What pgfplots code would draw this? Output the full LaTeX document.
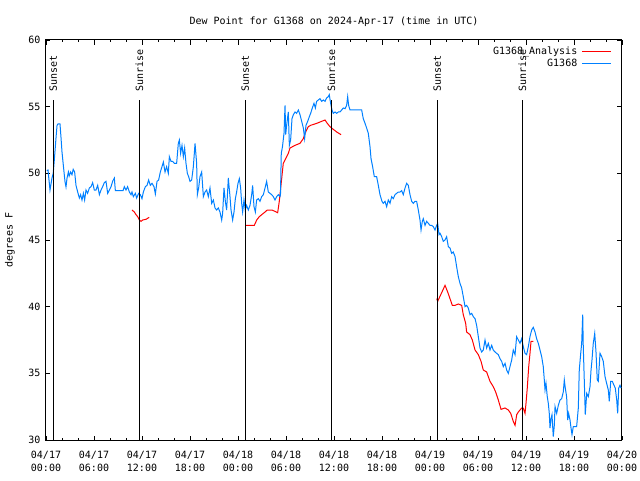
\documentclass[border=0pt]{standalone}
\usepackage{pgfplots}
\pgfplotsset{compat=1.18}
\usepackage{fontspec}
\setmainfont{DejaVu Sans Mono}
\setmonofont{DejaVu Sans Mono}
\definecolor{gblue}{RGB}{0,128,255}
\definecolor{gred}{RGB}{255,0,0}
\begin{document}
\begin{tikzpicture}[font=\fontsize{10}{13}\selectfont]
\useasboundingbox (-46pt,-40pt) rectangle (594pt,440pt);
\begin{axis}[
 scale only axis, width=576pt, height=400pt,
 at={(0pt,0pt)}, anchor=south west,
 xmin=0, xmax=72, ymin=30, ymax=60,
 /pgf/number format/assume math mode=true,
 xtick={0,6,...,72},
 xticklabels={{04/17\\00:00},{04/17\\06:00},{04/17\\12:00},{04/17\\18:00},{04/18\\00:00},{04/18\\06:00},{04/18\\12:00},{04/18\\18:00},{04/19\\00:00},{04/19\\06:00},{04/19\\12:00},{04/19\\18:00},{04/20\\00:00}},
 xticklabel style={align=center, font=\fontsize{10}{13}\selectfont, yshift=-8pt},
 yticklabel style={font=\fontsize{10}{13}\selectfont, xshift=-2pt},
 minor x tick num=2,
 ytick={30,35,...,60},
 tick align=inside,
 major tick length=4.5pt, minor tick length=2.5pt,
 tick style={black, line width=0.8pt},
 axis line style={black, line width=1pt},
 title={Dew Point for G1368 on 2024-Apr-17 (time in UTC)},
 title style={at={(axis description cs:0.5,1)}, anchor=center, yshift=12pt, font=\fontsize{10}{13}\selectfont},
 ylabel={degrees F},
 ylabel style={at={(axis description cs:-0.0625,0.5)}, anchor=center, font=\fontsize{10}{13}\selectfont},
 unbounded coords=jump,
 legend plot pos=right,
 legend cell align=right,
 legend style={draw=none, fill=none, at={(axis description cs:1,1)}, anchor=north east, xshift=-10pt, yshift=-5pt, inner sep=0pt, row sep=0pt, column sep=3pt, font=\fontsize{10}{13}\selectfont, nodes={inner sep=1.5pt}},
]
\addplot[gred, line width=1pt, legend image code/.code={\draw[draw=gred, line width=1pt] (0pt,0pt) -- (29pt,0pt);}] table {
x y
10.75 47.25
11.04 47.1
11.25 46.9
11.46 46.75
11.67 46.5
11.88 46.4
12.08 46.5
12.5 46.55
12.9 46.7
nan nan
24.88 46.1
26.04 46.1
26.34 46.5
26.66 46.75
27.38 47.1
27.66 47.25
28.25 47.25
28.96 47.05
29.16 47.9
29.46 49.6
29.66 50.75
30.29 51.5
30.5 51.9
31.13 52.1
31.75 52.25
32.16 52.6
32.38 53.0
32.79 53.5
33.08 53.6
33.84 53.75
34.46 53.9
34.88 54.0
35.16 53.75
35.5 53.5
35.91 53.3
36.34 53.1
36.88 52.9
nan nan
48.84 40.6
48.96 40.4
49.88 41.6
50.21 41.1
50.5 40.6
50.79 40.1
51.13 40.1
51.54 40.2
51.96 40.1
52.16 39.4
52.46 38.75
52.58 38.1
53.0 37.9
53.29 37.5
53.63 36.75
54.04 36.4
54.38 35.9
54.66 35.25
55.08 35.1
55.5 34.4
55.91 34.0
56.21 33.6
56.54 33.0
56.88 32.3
57.38 32.4
57.79 32.25
58.09 32.0
58.41 31.4
58.63 31.1
58.84 31.9
59.04 32.1
59.46 32.4
59.66 32.4
59.88 32.0
60.0 32.75
60.16 33.9
60.34 35.5
60.5 36.5
60.63 37.4
60.91 37.4
};
\addlegendentry{G1368\_Analysis}
\addplot[gblue, line width=1pt, legend image code/.code={\draw[draw=gblue, line width=1pt] (0pt,0pt) -- (29pt,0pt);}] table {
x y
0.1 50.2
0.25 50.25
0.5 48.75
0.75 49.65
0.9 50.0
1.04 51.0
1.25 52.65
1.38 53.6
1.5 53.7
1.75 53.7
1.88 52.65
2.0 51.6
2.2 50.4
2.38 49.35
2.5 48.98
2.63 49.65
2.8 50.1
2.9 49.8
3.08 50.1
3.25 49.9
3.4 50.3
3.58 50.1
3.75 49.1
3.96 48.6
4.17 48.15
4.33 48.4
4.5 48.0
4.67 48.5
4.83 48.0
5.0 48.75
5.2 48.5
5.42 48.9
5.63 49.0
5.83 49.3
6.04 48.75
6.25 48.75
6.46 49.1
6.67 48.4
6.88 48.75
7.08 49.0
7.29 49.3
7.5 49.4
7.71 48.5
7.92 48.75
8.13 49.0
8.33 49.4
8.54 49.65
8.67 48.7
9.63 48.7
9.79 49.0
10.0 48.75
10.2 49.0
10.42 48.6
10.63 48.4
10.75 48.6
10.92 48.25
11.17 48.5
11.33 48.15
11.58 48.5
11.79 48.4
12.0 48.1
12.17 48.6
12.42 49.0
12.63 49.1
12.83 49.5
13.04 49.1
13.25 49.25
13.5 49.0
13.67 48.45
13.88 49.4
14.08 49.5
14.29 50.1
14.5 50.5
14.67 50.85
14.88 50.1
15.08 50.5
15.29 50.0
15.42 51.25
15.63 50.9
15.83 50.9
16.04 50.75
16.33 50.75
16.54 52.25
16.67 52.5
16.83 51.5
17.0 52.1
17.17 51.25
17.33 51.9
17.5 50.75
17.67 50.0
17.83 49.75
18.0 49.4
18.21 49.5
18.42 50.5
18.63 52.25
18.83 50.75
18.92 48.4
19.08 48.9
19.25 49.75
19.46 50.1
19.67 48.25
19.88 48.6
20.08 48.75
20.29 48.25
20.5 48.9
20.71 47.75
20.92 48.0
21.13 47.4
21.33 47.25
21.54 47.4
21.75 47.1
21.96 46.5
22.08 47.0
22.25 48.9
22.42 47.9
22.58 47.25
22.79 49.65
23.0 48.25
23.13 47.25
23.33 46.5
23.5 47.1
23.67 48.1
23.83 48.6
24.0 49.25
24.17 49.6
24.33 48.9
24.46 47.75
24.58 47.1
24.75 48.0
24.91 47.25
25.08 47.6
25.29 47.25
25.5 47.6
25.71 48.4
25.83 49.1
26.0 47.5
26.17 47.1
26.33 48.0
26.54 48.1
26.75 47.9
26.96 48.25
27.17 48.4
27.38 48.9
27.58 49.4
27.79 48.6
28.0 48.5
28.21 48.4
28.42 48.25
28.63 48.0
28.83 48.25
29.04 48.4
29.25 48.25
29.31 48.4
29.41 51.5
29.56 52.0
29.75 53.0
29.88 55.1
29.96 52.9
30.08 53.6
30.29 54.6
30.42 52.1
30.58 52.5
30.75 54.1
30.92 54.4
31.13 54.6
31.33 54.5
31.54 54.75
31.75 54.4
31.96 53.9
32.17 53.4
32.33 52.6
32.5 53.6
32.71 53.9
32.92 54.25
33.08 54.5
33.29 54.9
33.5 55.25
33.67 54.9
33.83 55.4
34.04 55.5
34.25 55.6
34.46 55.4
34.67 55.5
34.88 55.4
35.08 55.65
35.29 55.75
35.41 55.9
35.58 55.25
35.75 54.75
35.91 54.5
36.13 54.6
36.33 54.5
36.54 54.6
36.75 54.6
36.96 54.75
37.16 54.9
37.38 54.85
37.58 55.1
37.71 55.75
37.83 55.1
38.0 54.75
39.46 54.75
39.66 54.1
39.88 53.75
40.08 53.4
40.29 53.0
40.5 52.0
40.63 51.1
40.83 50.5
41.04 49.75
41.33 49.75
41.54 49.1
41.75 48.4
42.0 47.9
42.16 47.75
42.38 47.9
42.58 47.5
42.79 48.0
43.0 47.75
43.21 48.25
43.41 48.1
43.63 48.4
43.83 48.5
44.04 48.6
44.25 48.6
44.46 48.7
44.66 48.4
44.88 48.9
45.08 49.25
45.29 49.1
45.5 48.4
45.71 47.9
45.91 47.75
46.13 47.9
46.33 47.9
46.54 47.25
46.75 46.5
46.88 45.75
47.04 46.4
47.16 46.6
47.38 46.1
47.58 46.4
47.79 46.25
48.0 46.1
48.21 46.1
48.41 46.0
48.63 45.75
48.83 46.1
48.96 46.25
49.13 45.4
49.25 45.5
49.46 45.25
49.66 44.9
49.88 45.0
50.08 45.25
50.29 44.5
50.5 44.4
50.71 44.0
50.91 44.1
51.13 43.75
51.33 43.0
51.54 42.25
51.75 41.75
51.96 41.4
52.16 40.75
52.38 40.0
52.58 40.1
52.79 39.9
53.0 39.4
53.21 39.5
53.41 39.25
53.63 39.1
53.83 38.6
54.04 37.75
54.25 36.9
54.46 36.6
54.66 36.75
54.88 37.5
55.08 36.9
55.29 37.25
55.5 36.75
55.71 37.1
55.91 36.75
56.13 36.6
56.33 36.5
56.54 36.4
56.75 36.1
56.96 35.9
57.16 35.5
57.38 35.75
57.58 35.25
57.79 35.0
58.0 35.5
58.21 36.0
58.41 36.75
58.63 36.4
58.83 37.75
59.04 37.5
59.25 37.25
59.46 37.6
59.66 37.0
59.88 36.5
60.08 36.4
60.29 37.0
60.5 37.75
60.71 38.25
60.91 38.45
61.13 38.1
61.33 37.6
61.54 37.25
61.75 36.75
61.96 36.25
62.16 35.5
62.29 34.5
62.38 33.75
62.5 34.25
62.66 33.25
62.79 32.75
62.91 32.0
63.0 30.9
63.13 31.6
63.25 31.9
63.41 30.25
63.54 31.1
63.63 32.5
63.84 32.0
64.04 32.6
64.25 33.0
64.46 33.1
64.66 33.6
64.79 34.5
64.91 33.9
65.08 33.25
65.21 31.5
65.33 32.0
65.5 31.5
65.63 30.9
65.75 30.4
65.91 31.0
66.13 31.0
66.33 31.0
66.54 32.4
66.66 35.25
66.84 36.5
66.96 37.25
67.09 39.4
67.16 37.0
67.29 34.4
67.41 31.9
67.59 33.5
67.79 33.25
68.0 34.0
68.13 35.25
68.25 36.0
68.41 37.25
68.59 38.0
68.75 36.6
68.91 34.5
69.04 34.4
69.25 36.5
69.46 36.25
69.66 35.9
69.88 34.75
70.08 34.25
70.29 33.75
70.41 32.9
70.59 34.4
70.79 34.4
71.0 34.1
71.16 33.9
71.34 33.0
71.46 32.0
71.59 33.9
71.75 34.1
71.88 33.9
};
\addlegendentry{G1368}
\addplot[black, line width=1pt, forget plot] coordinates {(0.91,30) (0.91,55.5)};
\addplot[black, line width=1pt, forget plot] coordinates {(11.66,30) (11.66,55.5)};
\addplot[black, line width=1pt, forget plot] coordinates {(24.91,30) (24.91,55.5)};
\addplot[black, line width=1pt, forget plot] coordinates {(35.66,30) (35.66,55.5)};
\addplot[black, line width=1pt, forget plot] coordinates {(48.91,30) (48.91,55.5)};
\addplot[black, line width=1pt, forget plot] coordinates {(59.54,30) (59.54,55.5)};
\node[rotate=90, anchor=west, inner sep=0pt] at (axis cs:0.91,56.1) {Sunset};
\node[rotate=90, anchor=west, inner sep=0pt] at (axis cs:11.66,56.1) {Sunrise};
\node[rotate=90, anchor=west, inner sep=0pt] at (axis cs:24.91,56.1) {Sunset};
\node[rotate=90, anchor=west, inner sep=0pt] at (axis cs:35.66,56.1) {Sunrise};
\node[rotate=90, anchor=west, inner sep=0pt] at (axis cs:48.91,56.1) {Sunset};
\node[rotate=90, anchor=west, inner sep=0pt] at (axis cs:59.54,56.1) {Sunrise};
\end{axis}
\end{tikzpicture}
\end{document}
